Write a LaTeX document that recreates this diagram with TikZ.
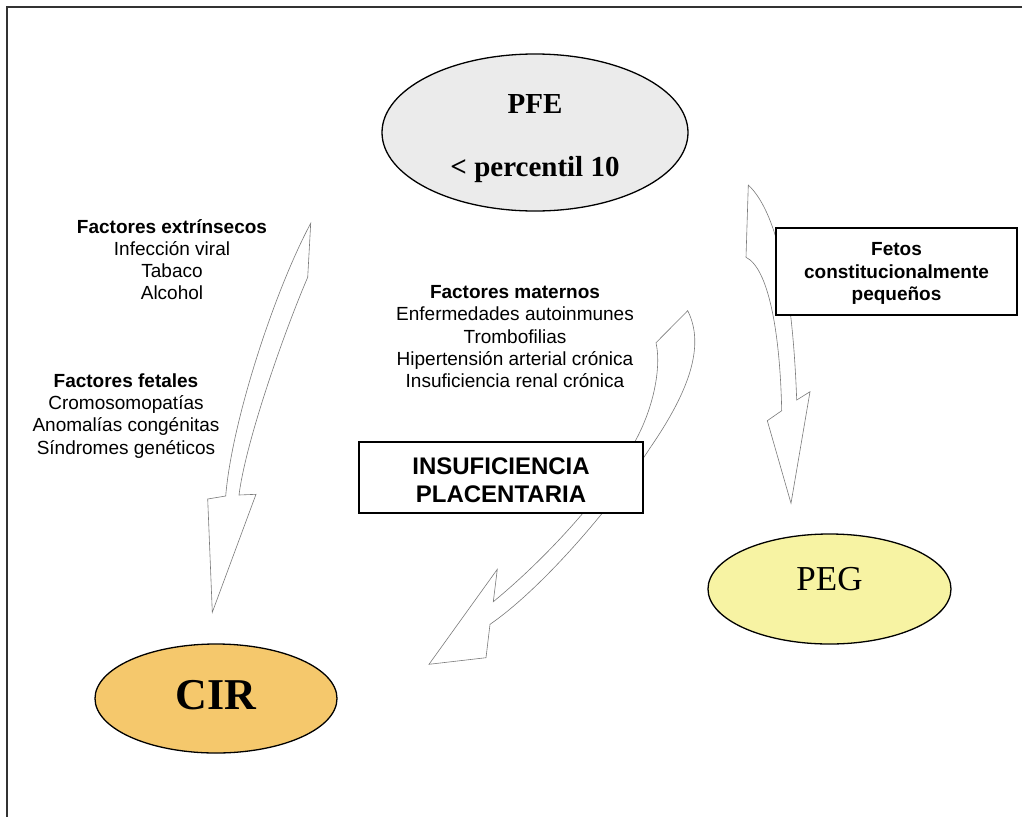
\documentclass[tikz,border=0pt]{standalone}
\usepackage{fontspec}
\setmainfont{Liberation Serif}
\newfontfamily\arial{Liberation Sans}
\usetikzlibrary{shapes.geometric}
\definecolor{pfegray}{HTML}{EBEBEB}
\definecolor{cirorange}{HTML}{F5C86C}
\definecolor{pegyellow}{HTML}{F7F3A3}
\definecolor{arrowgray}{HTML}{7A7A7A}
\definecolor{framegray}{HTML}{333333}
\begin{document}
\begin{tikzpicture}[x=1pt,y=-1pt,
  bigell/.style={ellipse, draw=black, line width=1.3pt, inner sep=0pt},
  blockarrow/.style={draw=arrowgray, line width=0.6pt, fill=white, line join=miter},
  labelbox/.style={draw=black, line width=1.4pt, fill=white, inner sep=0pt, align=center},
  factors/.style={align=center, inner sep=0pt, font=\arial\fontsize{19}{22.3}\selectfont},
  elltext/.style={inner sep=0pt, align=center}]
\useasboundingbox (0,0) rectangle (1028,817);
\draw[line width=1.6pt, draw=framegray] (1022,7) -- (7,7) -- (7,817);

% block arrows
\draw[blockarrow] (310.7,223.3) -- (307.7,277.3)
  .. controls (285,330) and (246,440) .. (239,495)
  -- (256,494.3) -- (212.3,612.3) -- (207.7,499) -- (225.7,496)
  .. controls (232,420) and (275,290) .. cycle;
\draw[blockarrow] (687.7,310.7) -- (656,342.7)
  .. controls (662,370) and (652,415) .. (630,450)
  .. controls (602,495) and (550,555) .. (493.3,601.7)
  -- (497.3,569.3) -- (429,664.3) -- (486,657.7) -- (490,624.3)
  .. controls (540,590) and (610,510) .. (650,448)
  .. controls (690,390) and (705,345) .. cycle;
\draw[blockarrow] (748.3,185) -- (746,257.3)
  .. controls (768,268) and (780,330) .. (781.7,410.7)
  -- (767.3,420.7) -- (791,503.3) -- (810,391.7) -- (796.7,400)
  .. controls (793,300) and (780,215) .. cycle;

% ellipses
\node[bigell, fill=pfegray, minimum width=306pt, minimum height=157pt] (pfe) at (535,132.5) {};
\node[elltext, font=\bfseries\fontsize{29}{34}\selectfont] (pfetext) at (535,139) {PFE\\[29pt]< percentil 10};
\node[bigell, fill=cirorange, minimum width=242pt, minimum height=109pt] (cir) at (216,698.5) {};
\node[elltext, font=\bfseries\fontsize{44}{50}\selectfont] (cirtext) at (216,695) {CIR};
\node[bigell, fill=pegyellow, minimum width=243pt, minimum height=110pt] (peg) at (829.5,589) {};
\node[elltext, font=\fontsize{35}{40}\selectfont] (pegtext) at (829.5,579) {PEG};

% boxes
\node[labelbox, minimum width=241pt, minimum height=87pt, font=\arial\bfseries\fontsize{19}{22.5}\selectfont] (fetos) at (896.5,271.5) {\rule{0pt}{17.6pt}Fetos\\constitucionalmente\\pequeños};
\node[labelbox, minimum width=284pt, minimum height=71pt, font=\arial\bfseries\fontsize{24}{27.5}\selectfont] (insuf) at (501,477.5) {\rule{0pt}{22pt}INSUFICIENCIA\\PLACENTARIA};

% factor lists
\node[factors] (extr) at (172,259.6) {\textbf{Factores extrínsecos}\\Infección viral\\Tabaco\\Alcohol};
\node[factors] (fetal) at (126,415.7) {\textbf{Factores fetales}\\Cromosomopatías\\Anomalías congénitas\\Síndromes genéticos};
\node[factors] (matern) at (515,336.8) {\textbf{Factores maternos}\\Enfermedades autoinmunes\\Trombofilias\\Hipertensión arterial crónica\\Insuficiencia renal crónica};
\end{tikzpicture}
\end{document}
